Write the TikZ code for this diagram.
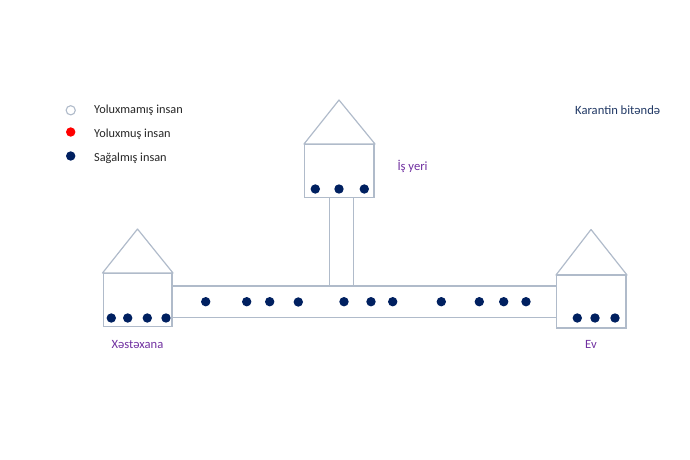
\documentclass[tikz,border=0pt]{standalone}
\usepackage{fontspec}
\setmainfont{Carlito}
\definecolor{wall}{HTML}{B0BBCA}
\definecolor{navy}{HTML}{002060}
\definecolor{lilac}{HTML}{7030A0}
\definecolor{ink}{HTML}{262626}
\definecolor{title}{HTML}{203864}
\tikzset{
  wallline/.style={draw=wall,line width=1.2pt},
  corridorline/.style={draw=wall,line width=1.6pt},
  person/.style={circle,fill=navy,inner sep=0pt,minimum size=9.4pt},
  legendtext/.style={anchor=west,inner sep=0pt,text=ink,font=\fontsize{12.3}{14}\selectfont},
  place/.style={inner sep=0pt,text=lilac,font=\fontsize{12.6}{14}\selectfont},
}
\begin{document}
\begin{tikzpicture}[x=1pt,y=-1pt]
\useasboundingbox (0,0) rectangle (690,460);
% corridors
\coordinate (cl1) at (172,286); \coordinate (cr1) at (556.5,286);
\coordinate (cl2) at (172,317.5); \coordinate (cr2) at (556.5,317.5);
\coordinate (vl1) at (329.5,197.5); \coordinate (vl2) at (329.5,286);
\coordinate (vr1) at (353.7,197.5); \coordinate (vr2) at (353.7,286);
\draw[corridorline] (cl1) -- (cr1);
\draw[corridorline] (cl2) -- (cr2);
\draw[wallline] (vl1) -- (vl2);
\draw[wallline] (vr1) -- (vr2);
% houses
\draw[wallline] (103.5,273.5) rectangle (172,326.5);
\draw[wallline,line join=round] (102.5,273) -- (137.5,229) -- (173,273) -- cycle;
\draw[wallline] (304.7,144.5) rectangle (374,197.5);
\draw[wallline,line join=round] (304,144) -- (339,100) -- (375,144) -- cycle;
\draw[wallline] (556.5,275) rectangle (626,328);
\draw[wallline,line join=round] (556,275) -- (591,229.5) -- (627,275) -- cycle;
% people
\foreach \n/\x/\y in {a/111.3/318,b/127.7/318,c/147.3/318,d/166/318,
  e/205.7/301.7,f/246.7/301.7,g/269.7/301.7,h/298.3/302,i/344/301.7,j/371/301.7,k/392.7/301.7,
  l/441.3/301.7,m/479.3/301.7,n/503.7/301.7,o/526/301.7,
  p/577.3/318,q/595/318,r/615/318,s/315.3/189,t/339/189,u/364.3/189}
  \node[person] (p\n) at (\x,\y) {};
% legend
\node[circle,draw=wall,fill=white,line width=1.1pt,inner sep=0pt,minimum size=9.2pt] (lega) at (70.7,110.3) {};
\node[person,fill=red] (legb) at (70.7,132) {};
\node[person] (legc) at (70.7,156) {};
\node[legendtext] (ta) at (94,110) {Yoluxmamış insan};
\node[legendtext] (tb) at (94,134.5) {Yoluxmuş insan};
\node[legendtext] (tc) at (94,158) {Sağalmış insan};
\node[place] (xe) at (137.5,344.5) {Xəstəxana};
\node[place] (ev) at (591,344.5) {Ev};
\node[place,anchor=west] (is) at (397.3,166) {İş yeri};
\node[anchor=west,inner sep=0pt,text=title,font=\fontsize{12.6}{14}\selectfont] (ka) at (575,110) {Karantin bitəndə};
\end{tikzpicture}
\end{document}
